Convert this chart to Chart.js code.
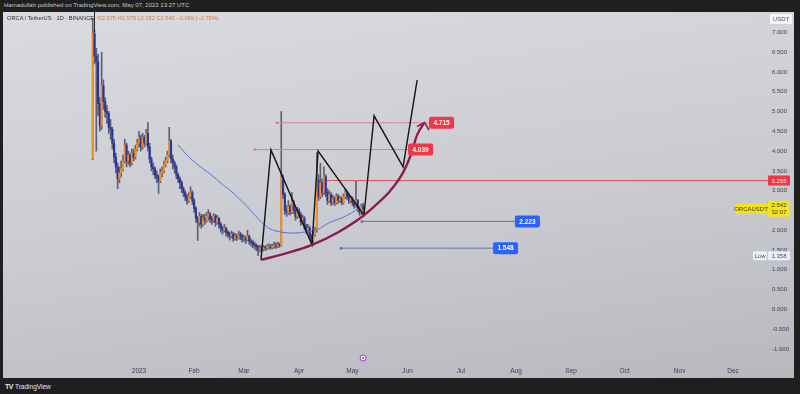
<!DOCTYPE html>
<html>
<head>
<meta charset="utf-8">
<script src="https://cdn.jsdelivr.net/npm/chart.js@4.4.0/dist/chart.umd.min.js"></script>
<style>
html, body { margin: 0; padding: 0; width: 800px; height: 394px; overflow: hidden; background: #1f1f20; font-family: 'Liberation Sans', Arial, sans-serif; }
#byline { position: absolute; left: 4px; top: 2px; font-size: 6px; color: #c9c9c9; white-space: nowrap; }
#panel { position: absolute; left: 3px; top: 12px; width: 791px; height: 366px;
  background: linear-gradient(172deg, #dadbe0 0%, #cacbd1 55%, #b7b9bf 100%); }
#chart { position: absolute; left: 3px; top: 12px; }
#title { position: absolute; left: 7px; top: 15px; font-size: 5.7px; color: #2b2b2b; white-space: nowrap; }
#title span { color: #e8742f; }
#cursor { position: absolute; left: 94px; top: 12px; width: 1px; height: 20px; background: #222; }
#logo { position: absolute; left: 5px; top: 383px; font-size: 6.5px; color: #e6e6e6; white-space: nowrap; }
#logo b { font-size: 7px; letter-spacing: -0.5px; margin-right: 2px; }
</style>
</head>
<body>
<div id="byline">Hamadullah published on TradingView.com, May 07, 2023 13:27 UTC</div>
<div id="panel"></div>
<canvas id="chart" width="791" height="366"></canvas>
<div id="title">ORCA / TetherUS · 1D · BINANCE &nbsp;<span>O2.675 H2.578 L2.382 C2.542 −0.069 (−2.79%)</span></div>
<div id="cursor"></div>
<div id="logo"><b>TV</b>TradingView</div>
<script>
// daily candles, first one is Dec 6 2022 (day 0 = Jan 1 2023)
const firstDay = -26;
const firstOpen = 3.81;
const closes = [
  6.97, 6.40, 6.25, 5.20, 4.65, 5.65, 5.25, 5.00, 4.95, 4.60,
  4.55, 4.20, 3.85, 3.60, 3.30, 3.45, 3.55, 3.75, 4.15, 3.75,
  3.90, 3.70, 3.95, 3.85, 4.05, 4.20, 4.35, 4.10, 4.35, 4.20,
  4.45, 4.10, 3.80, 3.60, 3.55, 3.40, 3.35, 3.25, 3.45, 3.50,
  3.65, 3.75, 3.90, 4.25, 3.80, 3.70, 3.60, 3.40, 3.30, 3.20,
  3.05, 2.95, 2.85, 2.75, 2.85, 2.95, 2.75, 2.55, 2.30, 2.20,
  2.35, 2.15, 2.30, 2.25, 2.35, 2.40, 2.30, 2.25, 2.35, 2.20,
  2.30, 2.15, 2.05, 2.00, 2.05, 1.95, 1.90, 1.85, 1.90, 1.80,
  1.85, 1.82, 1.90, 1.85, 1.78, 1.80, 1.75, 1.85, 1.72, 1.70,
  1.65, 1.62, 1.58, 1.50, 1.55, 1.52, 1.56, 1.55, 1.58, 1.60,
  1.57, 1.60, 1.62, 1.60, 1.63, 1.62, 3.33, 2.90, 2.50, 2.45,
  2.60, 2.45, 2.70, 2.50, 2.35, 2.50, 2.40, 2.20, 2.30, 2.10,
  2.00, 2.05, 1.85, 1.75, 1.90, 2.00, 3.26, 2.85, 3.20, 2.95,
  3.35, 2.95, 2.75, 2.90, 2.70, 2.80, 2.70, 2.85, 2.75, 2.80,
  2.70, 2.85, 2.95, 2.85, 2.75, 2.80, 2.70, 2.62, 2.75, 2.55,
  2.45, 2.61, 2.542
];
const highs = [
  7.35, 7.05, 6.60, 6.45, 5.35, 6.50, 5.80, 5.35, 5.15, 5.00,
  4.80, 4.60, 4.30, 3.95, 3.70, 3.60, 3.75, 3.90, 4.30, 4.20,
  4.00, 3.95, 4.05, 4.05, 4.15, 4.30, 4.50, 4.40, 4.45, 4.40,
  4.55, 4.72, 4.20, 3.85, 3.70, 3.60, 3.50, 3.40, 3.55, 3.60,
  3.75, 3.85, 4.00, 4.60, 4.30, 3.90, 3.75, 3.65, 3.45, 3.35,
  3.25, 3.10, 3.00, 2.90, 2.95, 3.10, 3.00, 2.80, 2.60, 2.35,
  2.45, 2.40, 2.40, 2.40, 2.45, 2.52, 2.45, 2.35, 2.42, 2.40,
  2.38, 2.32, 2.20, 2.10, 2.15, 2.08, 2.00, 1.95, 1.98, 1.95,
  1.92, 1.90, 1.98, 1.95, 1.90, 1.88, 1.85, 2.00, 1.88, 1.78,
  1.75, 1.70, 1.66, 1.62, 1.62, 1.60, 1.62, 1.60, 1.64, 1.66,
  1.64, 1.65, 1.70, 1.68, 1.70, 1.68, 5.00, 3.40, 2.95, 2.62,
  2.75, 2.65, 2.95, 2.75, 2.55, 2.58, 2.55, 2.45, 2.38, 2.35,
  2.15, 2.15, 2.10, 1.90, 1.98, 2.08, 3.96, 3.40, 3.69, 3.30,
  3.60, 3.40, 3.05, 3.00, 2.95, 2.88, 2.85, 2.92, 2.90, 2.86,
  2.84, 2.92, 3.05, 3.00, 2.90, 2.86, 2.84, 2.75, 3.26, 2.78,
  2.60, 2.66, 2.678
];
const lows = [
  3.78, 6.20, 4.00, 4.90, 4.50, 4.55, 5.05, 4.85, 4.70, 4.45,
  4.30, 4.05, 3.70, 3.45, 3.05, 3.20, 3.35, 3.50, 3.70, 3.60,
  3.65, 3.60, 3.65, 3.75, 3.80, 4.00, 4.10, 4.00, 4.05, 4.10,
  4.15, 4.00, 3.70, 3.50, 3.40, 3.30, 3.20, 2.93, 3.20, 3.35,
  3.45, 3.60, 3.70, 3.85, 3.70, 3.55, 3.45, 3.30, 3.20, 3.05,
  2.95, 2.85, 2.75, 2.65, 2.70, 2.80, 2.65, 2.45, 2.20, 1.74,
  2.10, 2.05, 2.10, 2.15, 2.20, 2.25, 2.20, 2.15, 2.20, 2.10,
  2.15, 2.05, 1.95, 1.90, 1.95, 1.85, 1.82, 1.75, 1.80, 1.72,
  1.75, 1.74, 1.78, 1.76, 1.70, 1.72, 1.66, 1.72, 1.64, 1.60,
  1.56, 1.52, 1.48, 1.36, 1.45, 1.46, 1.48, 1.49, 1.50, 1.53,
  1.52, 1.53, 1.55, 1.54, 1.56, 1.57, 1.60, 2.80, 2.40, 2.35,
  2.40, 2.38, 2.42, 2.42, 2.25, 2.30, 2.32, 2.12, 2.15, 2.02,
  1.92, 1.95, 1.78, 1.62, 1.70, 1.85, 1.95, 2.75, 2.80, 2.85,
  2.90, 2.85, 2.65, 2.70, 2.62, 2.65, 2.62, 2.66, 2.68, 2.70,
  2.64, 2.66, 2.80, 2.78, 2.68, 2.70, 2.62, 2.55, 2.58, 2.48,
  2.38, 2.40, 2.382
];

// moving average: [day, value]
const maDays   = [22, 30, 42, 47, 51, 61, 66, 70, 75, 85, 94, 100, 107, 115, 124];
const maValues = [4.15, 3.77, 3.35, 3.15, 3.02, 2.59, 2.34, 2.16, 2.01, 1.93, 1.96, 2.01, 2.19, 2.33, 2.56];

// hand drawn zigzag and curve
const zigDays   = [68.6, 74.2, 97.3, 100.7, 126.5, 132.2, 148.5, 156.4];
const zigValues = [1.25, 4.03, 1.63, 4.00, 2.38, 4.89, 3.60, 5.79];
const arcDays   = [68.6, 83, 97.3, 112, 125.4, 136.6, 141, 148.4, 152.4, 156.4, 160.3];
const arcValues = [1.25, 1.42, 1.63, 1.95, 2.34, 2.78, 2.98, 3.45, 3.85, 4.41, 4.71];
const arrowDays   = [156.3, 160.6, 163.1];
const arrowValues = [4.62, 4.72, 4.53];

// horizontal levels
const levels      = [4.715, 4.039, 3.255, 2.223, 1.548];
const levelStarts = [77.6, 65.2, 105.7, 125.4, 113.6];
const levelEnds   = [163.1, 151.3, 353.7, 211.4, 199.1];
const levelKinds  = ['red', 'red', 'axis', 'blue', 'blue'];

const lastPrice = 2.542;
const lowPrice = 1.358;

// axes
const monthDays   = [0, 31, 59, 90, 120, 151, 181, 212, 243, 273, 304, 334];
const monthLabels = ['2023', 'Feb', 'Mar', 'Apr', 'May', 'Jun', 'Jul', 'Aug', 'Sep', 'Oct', 'Nov', 'Dec'];
const yTicks = [7, 6.5, 6, 5.5, 5, 4.5, 4, 3.5, 3, 2.5, 2, 1.5, 1, 0.5, 0, -0.5, -1];

const upColor = '#f0902c';
const downColor = '#28359c';
const wickColor = '#5d6070';

const opens = closes.map((c, i) => i === 0 ? firstOpen : closes[i - 1]);
const candleColors = closes.map((c, i) => c >= opens[i] ? upColor : downColor);
const pts = (xs, ys) => xs.map((d, i) => ({ x: d, y: ys[i] }));

const levelColor = k => k === 'blue' ? '#6c70a6' : (k === 'axis' ? '#d8505e' : '#e08390');
const levelSets = levels.map((v, i) => ({
  type: 'line',
  data: [{ x: levelStarts[i], y: v }, { x: levelEnds[i], y: v }],
  borderColor: levelColor(levelKinds[i]),
  borderWidth: 1,
  pointRadius: ctx => (ctx.dataIndex === 0 && levelKinds[i] !== 'axis') ? 1.5 : 0,
  pointBackgroundColor: levelColor(levelKinds[i]),
  pointBorderWidth: 0,
  order: 5
}));

// keep the plot area edge to edge, TradingView style
const noPadding = s => { s.paddingTop = 0; s.paddingBottom = 0; s.paddingLeft = 0; s.paddingRight = 0; };

function roundBox(ctx, x, y, w, h, r, fill) {
  ctx.fillStyle = fill;
  ctx.beginPath();
  ctx.roundRect(x, y, w, h, r);
  ctx.fill();
}

const overlay = {
  id: 'overlay',
  afterDraw(chart) {
    const { ctx, scales: { x, y }, chartArea } = chart;
    ctx.save();
    ctx.textBaseline = 'middle';
    ctx.textAlign = 'center';

    // level labels on the chart
    levels.forEach((v, i) => {
      if (levelKinds[i] === 'axis') return;
      const px = x.getPixelForValue(levelEnds[i]);
      const py = y.getPixelForValue(v);
      roundBox(ctx, px, py - 6, 25, 12, 2, levelKinds[i] === 'red' ? '#f23645' : '#2962ff');
      ctx.fillStyle = '#ffffff';
      ctx.font = 'bold 6.5px "Liberation Sans"';
      ctx.fillText(v.toFixed(3), px + 12.5, py + 0.5);
    });

    const ax = chartArea.right;
    ctx.font = '6px "Liberation Sans"';

    // red level tag
    let py = y.getPixelForValue(3.255);
    roundBox(ctx, ax, py - 5, 22, 10, 1, '#f23645');
    ctx.fillStyle = '#fff';
    ctx.fillText('3.255', ax + 11, py + 0.5);

    // last price tag
    py = y.getPixelForValue(lastPrice);
    roundBox(ctx, ax - 33, py - 5, 32, 10, 1, '#f2e31c');
    roundBox(ctx, ax, py - 8, 22, 16, 1, '#f2e31c');
    ctx.fillStyle = '#3a3a2a';
    ctx.fillText('ORCAUSDT', ax - 17, py + 0.5);
    ctx.fillText(lastPrice.toFixed(3), ax + 11, py - 3.5);
    ctx.fillText('32:07', ax + 11, py + 4);

    // low tag
    py = y.getPixelForValue(lowPrice);
    roundBox(ctx, ax - 15, py - 4.5, 14, 9, 1, '#e9eef8');
    roundBox(ctx, ax, py - 4.5, 22, 9, 1, '#e9eef8');
    ctx.fillStyle = '#4a5060';
    ctx.fillText('Low', ax - 8, py + 0.5);
    ctx.fillText(lowPrice.toFixed(3), ax + 11, py + 0.5);

    // currency box
    roundBox(ctx, ax + 2, 2, 22, 10, 1, '#f4f5f7');
    ctx.fillStyle = '#555';
    ctx.fillText('USDT', ax + 13, 7.5);

    // event marker on the last day
    const ex = x.getPixelForValue(firstDay + closes.length - 1);
    const ey = chartArea.bottom - 4;
    ctx.beginPath();
    ctx.arc(ex, ey, 3, 0, Math.PI * 2);
    ctx.fillStyle = '#f6eefa';
    ctx.fill();
    ctx.lineWidth = 1;
    ctx.strokeStyle = '#9c3fc0';
    ctx.stroke();
    ctx.beginPath();
    ctx.arc(ex, ey, 1, 0, Math.PI * 2);
    ctx.fillStyle = '#9c3fc0';
    ctx.fill();
    ctx.restore();
  }
};

const chart = new Chart(document.getElementById('chart'), {
  type: 'bar',
  data: {
    datasets: [
      {
        data: closes.map((c, i) => ({ x: firstDay + i, y: [lows[i], highs[i]] })),
        backgroundColor: wickColor,
        barThickness: 1,
        grouped: false,
        order: 10
      },
      {
        data: closes.map((c, i) => ({ x: firstDay + i, y: [opens[i], c] })),
        backgroundColor: candleColors,
        barThickness: 1.5,
        minBarLength: 1,
        grouped: false,
        order: 9
      },
      {
        type: 'line',
        data: pts(maDays, maValues),
        borderColor: '#5b6fd6',
        borderWidth: 1,
        pointRadius: 0,
        tension: 0.4,
        order: 8
      },
      ...levelSets,
      {
        type: 'line',
        data: pts(zigDays, zigValues),
        borderColor: '#141414',
        borderWidth: 1.4,
        pointRadius: 0,
        tension: 0,
        order: 3
      },
      {
        type: 'line',
        data: pts(arcDays, arcValues),
        borderColor: '#8c1d50',
        borderWidth: 2.4,
        pointRadius: 0,
        cubicInterpolationMode: 'monotone',
        order: 2
      },
      {
        type: 'line',
        data: pts(arrowDays, arrowValues),
        borderColor: '#8c1d50',
        borderWidth: 1.6,
        pointRadius: 0,
        tension: 0,
        order: 1
      }
    ]
  },
  options: {
    responsive: false,
    animation: false,
    layout: { padding: 0, autoPadding: false },
    plugins: { legend: { display: false }, tooltip: { enabled: false } },
    scales: {
      x: {
        type: 'linear',
        min: -76.47,
        max: 353.7,
        offset: false,
        grid: { display: false, drawTicks: false },
        border: { display: false },
        afterBuildTicks: s => { s.ticks = monthDays.map(v => ({ value: v })); },
        afterFit: s => { s.height = 16; noPadding(s); },
        ticks: {
          autoSkip: false,
          maxRotation: 0,
          padding: 5,
          color: '#3d3f48',
          font: { family: 'Liberation Sans', size: 6.5 },
          callback: (v, i) => monthLabels[i]
        }
      },
      y: {
        type: 'linear',
        position: 'right',
        min: -1.329,
        max: 7.514,
        grid: { display: false, drawTicks: false },
        border: { display: false },
        afterBuildTicks: s => { s.ticks = yTicks.map(v => ({ value: v })); },
        afterFit: s => { s.width = 26; noPadding(s); },
        ticks: {
          padding: 4,
          color: '#3d3f48',
          font: { family: 'Liberation Sans', size: 6 },
          callback: v => v.toFixed(3)
        }
      }
    }
  },
  plugins: [overlay]
});
</script>
</body>
</html>
